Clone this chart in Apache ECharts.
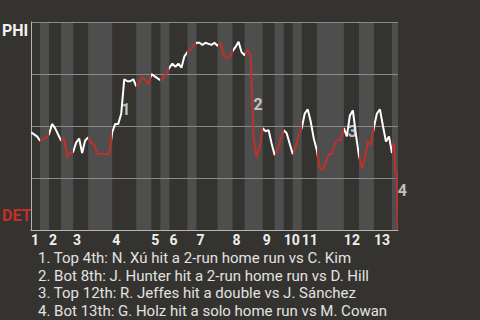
<!DOCTYPE html>
<html><head><meta charset="utf-8">
<style>html,body{margin:0;padding:0;background:#35332f}#c{width:480px;height:320px}</style>
<script src="https://cdn.jsdelivr.net/npm/echarts@6/dist/echarts.min.js"></script>
</head><body><div id="c"></div>
<script>
// ---- data ----
const teams = ['PHI', 'DET'];               // top = away (PHI win prob 1), bottom = home
const halfInningEnds = [3, 6, 10, 14, 19, 27, 35, 40, 43, 46, 52, 55, 62, 67, 71, 77, 81, 84, 87, 90, 95, 104, 109, 114, 120, 122];
const inningLabels = ['1','2','3','4','5','6','7','8','9','10','11','12','13'];
const playX = [
  0,1,2,3,4,5,6,7,8,9,10,11,12,13,14,15,16,17,18,19,
  20,21,22,23,24,25,26,27,28,29,30,31,32,33,34,35,36,37,38,39,
  40,41,42,43,44,45,46,47,48,49,50,51,52,53,54,55,56,57,58,59,
  60,61,62,63,64,65,66,67,68,69,70,71,72,73,74,75,76,77,78,79,
  80,81,82,83,84,85,86,87,88,89,90,91,92,93,94,95,96,97,98,99,
  100,101,102,103,104,105,106,107,108,109,110,111,112,113,114,115,116,117,118,119,
  120,120.7,121.1,121.5,122
];
const phiWinProb = [
  0.47,0.46,0.45,0.43,0.435,0.445,0.46,0.51,0.49,0.46,0.43,0.44,0.35,0.37,0.375,0.42,0.44,0.37,0.43,0.445,
  0.42,0.41,0.365,0.365,0.365,0.365,0.365,0.47,0.51,0.51,0.56,0.725,0.715,0.715,0.725,0.69,0.71,0.735,0.72,0.70,
  0.75,0.74,0.73,0.72,0.73,0.755,0.78,0.80,0.785,0.80,0.78,0.835,0.855,0.87,0.885,0.90,0.90,0.89,0.90,0.895,
  0.89,0.90,0.885,0.90,0.845,0.825,0.83,0.86,0.88,0.905,0.855,0.84,0.865,0.84,0.44,0.35,0.40,0.49,0.475,0.48,
  0.415,0.36,0.385,0.44,0.48,0.465,0.415,0.365,0.40,0.46,0.49,0.56,0.58,0.52,0.44,0.385,0.30,0.288,0.33,0.365,
  0.365,0.415,0.433,0.433,0.49,0.45,0.55,0.575,0.46,0.36,0.295,0.345,0.425,0.41,0.495,0.56,0.58,0.50,0.425,0.45,
  0.37,0.42,0.28,0.28,0.0
];
const eventPlays = [31, 74, 106, 122];
const eventLabels = ['1', '2', '3', '4'];
const notes = [
  '1. Top 4th: N. Xú hit a 2-run home run vs C. Kim',
  '2. Bot 8th: J. Hunter hit a 2-run home run vs D. Hill',
  '3. Top 12th: R. Jeffes hit a double vs J. Sánchez',
  '4. Bot 13th: G. Holz hit a solo home run vs M. Cowan'
];

// ---- styles ----
const BG = '#35332f', STRIPE = '#4e4e4e', WHITE = '#ffffff', RED = '#c0302a';
const FONT = 'Roboto';
const eventOffsets = [[3, 13], [6, 8], [4, 5], [5, -10]];

const chart = echarts.init(document.getElementById('c'), null, {renderer: 'svg'});
const starts = [0].concat(halfInningEnds.slice(0, -1));
const topStarts = starts.filter((s, i) => i % 2 === 0);
const pieces = [];
const bottomAreas = [];
starts.forEach((s, i) => {
  const e = halfInningEnds[i];
  const p = {gte: s, color: i % 2 ? RED : WHITE};
  if (i === starts.length - 1) p.lte = e; else p.lt = e;
  pieces.push(p);
  if (i % 2) bottomAreas.push([{xAxis: s}, {xAxis: e}]);
});
const lineData = playX.map((x, i) => [x, phiWinProb[i]]);
const eventData = eventPlays.map((pl, k) => {
  const idx = playX.indexOf(pl);
  return {
    value: [(playX[idx] + playX[idx - 1]) / 2, (phiWinProb[idx] + phiWinProb[idx - 1]) / 2],
    label: {formatter: eventLabels[k], offset: eventOffsets[k]}
  };
});
const maxX = halfInningEnds[halfInningEnds.length - 1];

chart.setOption({
  backgroundColor: BG,
  animation: false,
  title: {
    text: notes.join('\n'), left: 33, top: 244,
    textStyle: {color: '#e2e2e2', fontSize: 15, fontWeight: 'normal', fontFamily: FONT, lineHeight: 17.7}
  },
  grid: {left: 31, right: 82, top: 22, bottom: 90, containLabel: false, outerBoundsMode: 'none'},
  xAxis: {
    type: 'value', min: 0, max: maxX, z: 5,
    splitLine: {show: false},
    axisTick: {show: false},
    axisLine: {show: true, lineStyle: {color: '#b4b4b4', width: 1}},
    axisLabel: {
      customValues: topStarts, hideOverlap: false, align: 'left', margin: 3,
      color: '#eeeeee', fontSize: 14, fontWeight: 'bold', fontFamily: FONT,
      formatter: v => inningLabels[topStarts.indexOf(v)] || ''
    }
  },
  yAxis: {
    type: 'value', min: 0, max: 1, interval: 0.25, z: 5,
    axisLine: {show: true, lineStyle: {color: '#b4b4b4', width: 1}},
    axisTick: {show: false},
    axisLabel: {show: false},
    splitLine: {show: true, lineStyle: {color: '#8a8a8a', width: 1}}
  },
  visualMap: {type: 'piecewise', show: false, dimension: 0, seriesIndex: 1, pieces: pieces},
  series: [
    {type: 'line', data: [], z: 1, silent: true,
     markArea: {silent: true, itemStyle: {color: STRIPE, opacity: 1}, data: bottomAreas}},
    {type: 'line', data: lineData, z: 10, symbol: 'none', lineStyle: {width: 2}, silent: true},
    {type: 'scatter', data: eventData, z: 11, symbolSize: 0, silent: true,
     label: {show: true, position: 'inside', color: '#e6e6e6', fontSize: 16, fontWeight: 'bold', fontFamily: FONT}}
  ]
});

const yTop = chart.convertToPixel({yAxisIndex: 0}, 1);
const yBot = chart.convertToPixel({yAxisIndex: 0}, 0);
chart.setOption({
  graphic: [
    {type: 'text', left: 2, top: yTop, style: {text: teams[0], fill: '#f2f2f2', font: 'bold 16px ' + FONT}},
    {type: 'text', left: 2, top: yBot - 23, style: {text: teams[1], fill: RED, font: 'bold 16px ' + FONT}}
  ]
});
</script></body></html>
